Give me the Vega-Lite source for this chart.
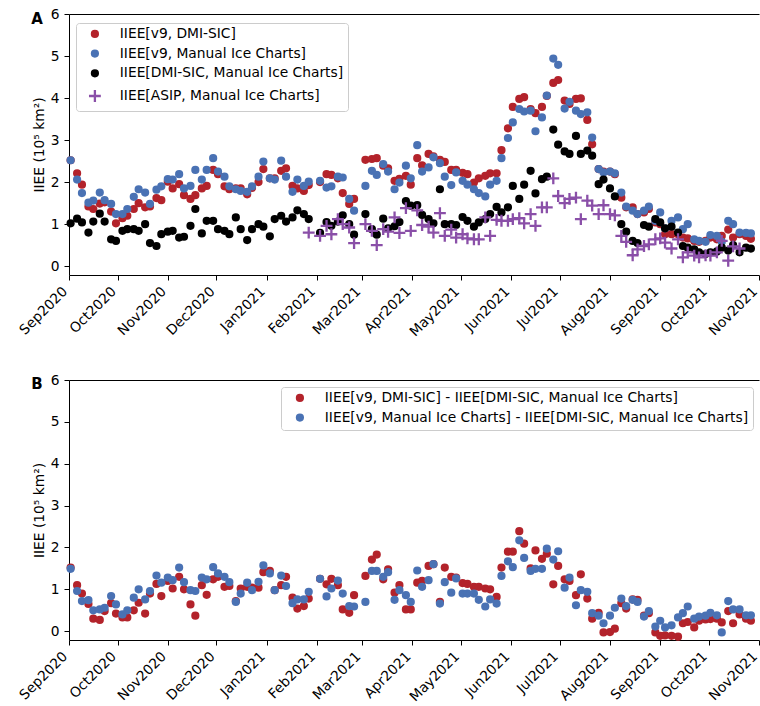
{
"$schema": "https://vega.github.io/schema/vega-lite/v6.json",
"padding": {"left": 16, "top": 7, "right": 0, "bottom": 0},
"config": {
 "font": "DejaVu Sans",
 "view": {"stroke": null},
 "axis": {"grid": false, "domainColor": "black", "tickColor": "black", "labelColor": "black", "titleColor": "black", "labelFontSize": 13.8, "titleFontSize": 13.8, "titleFontWeight": "normal", "tickSize": 5, "labelPadding": 5, "domainWidth": 1, "tickWidth": 1},
 "legend": {"title": null, "fillColor": "white", "strokeColor": "#cccccc", "cornerRadius": 3, "padding": 4, "labelFontSize": 13.8, "labelColor": "black", "labelLimit": 700, "rowPadding": 3.7, "symbolOffset": 8, "labelOffset": 18, "symbolSize": 35, "symbolStrokeWidth": 2.3}
},
"datasets": {
"top": [
{"d":"2020-09-02","s":"a","v":2.52},{"d":"2020-09-06","s":"a","v":2.21},{"d":"2020-09-09","s":"a","v":1.94},{"d":"2020-09-13","s":"a","v":1.42},{"d":"2020-09-16","s":"a","v":1.36},{"d":"2020-09-20","s":"a","v":1.49},{"d":"2020-09-23","s":"a","v":1.52},{"d":"2020-09-27","s":"a","v":1.30},{"d":"2020-09-30","s":"a","v":1.02},{"d":"2020-10-04","s":"a","v":1.14},{"d":"2020-10-07","s":"a","v":1.20},{"d":"2020-10-11","s":"a","v":1.36},{"d":"2020-10-14","s":"a","v":1.50},{"d":"2020-10-18","s":"a","v":1.40},{"d":"2020-10-21","s":"a","v":1.42},{"d":"2020-10-25","s":"a","v":1.62},{"d":"2020-10-28","s":"a","v":1.57},{"d":"2020-11-01","s":"a","v":2.01},{"d":"2020-11-04","s":"a","v":1.85},{"d":"2020-11-08","s":"a","v":1.95},{"d":"2020-11-11","s":"a","v":1.69},{"d":"2020-11-15","s":"a","v":1.60},{"d":"2020-11-18","s":"a","v":1.69},{"d":"2020-11-22","s":"a","v":1.85},{"d":"2020-11-25","s":"a","v":1.91},{"d":"2020-11-29","s":"a","v":2.29},{"d":"2020-12-02","s":"a","v":2.19},{"d":"2020-12-06","s":"a","v":1.90},{"d":"2020-12-09","s":"a","v":1.83},{"d":"2020-12-13","s":"a","v":1.85},{"d":"2020-12-16","s":"a","v":1.85},{"d":"2020-12-20","s":"a","v":1.71},{"d":"2020-12-23","s":"a","v":1.86},{"d":"2020-12-27","s":"a","v":2.00},{"d":"2020-12-30","s":"a","v":2.31},{"d":"2021-01-03","s":"a","v":2.09},{"d":"2021-01-06","s":"a","v":2.09},{"d":"2021-01-10","s":"a","v":2.27},{"d":"2021-01-13","s":"a","v":2.33},{"d":"2021-01-17","s":"a","v":1.91},{"d":"2021-01-20","s":"a","v":1.85},{"d":"2021-01-24","s":"a","v":1.79},{"d":"2021-01-27","s":"a","v":1.93},{"d":"2021-02-03","s":"a","v":2.00},{"d":"2021-02-07","s":"a","v":2.19},{"d":"2021-02-10","s":"a","v":2.17},{"d":"2021-02-14","s":"a","v":2.09},{"d":"2021-02-17","s":"a","v":1.74},{"d":"2021-02-21","s":"a","v":1.48},{"d":"2021-02-24","s":"a","v":1.60},{"d":"2021-03-03","s":"a","v":2.53},{"d":"2021-03-07","s":"a","v":2.55},{"d":"2021-03-10","s":"a","v":2.57},{"d":"2021-03-14","s":"a","v":2.39},{"d":"2021-03-17","s":"a","v":2.33},{"d":"2021-03-21","s":"a","v":2.03},{"d":"2021-03-24","s":"a","v":2.08},{"d":"2021-03-28","s":"a","v":2.15},{"d":"2021-03-31","s":"a","v":1.94},{"d":"2021-04-04","s":"a","v":2.57},{"d":"2021-04-07","s":"a","v":2.40},{"d":"2021-04-11","s":"a","v":2.67},{"d":"2021-04-14","s":"a","v":2.61},{"d":"2021-04-18","s":"a","v":2.53},{"d":"2021-04-21","s":"a","v":2.48},{"d":"2021-04-25","s":"a","v":2.29},{"d":"2021-04-28","s":"a","v":2.29},{"d":"2021-05-02","s":"a","v":2.22},{"d":"2021-05-05","s":"a","v":2.19},{"d":"2021-05-09","s":"a","v":1.99},{"d":"2021-05-12","s":"a","v":2.09},{"d":"2021-05-16","s":"a","v":2.15},{"d":"2021-05-19","s":"a","v":2.21},{"d":"2021-05-23","s":"a","v":2.21},{"d":"2021-05-26","s":"a","v":2.76},{"d":"2021-05-30","s":"a","v":3.28},{"d":"2021-06-02","s":"a","v":3.79},{"d":"2021-06-06","s":"a","v":3.98},{"d":"2021-06-09","s":"a","v":4.02},{"d":"2021-06-13","s":"a","v":3.74},{"d":"2021-06-16","s":"a","v":3.64},{"d":"2021-06-20","s":"a","v":3.79},{"d":"2021-06-23","s":"a","v":4.05},{"d":"2021-06-27","s":"a","v":4.36},{"d":"2021-06-30","s":"a","v":4.43},{"d":"2021-07-04","s":"a","v":3.94},{"d":"2021-07-07","s":"a","v":3.86},{"d":"2021-07-11","s":"a","v":3.98},{"d":"2021-07-14","s":"a","v":3.99},{"d":"2021-07-18","s":"a","v":3.48},{"d":"2021-07-21","s":"a","v":2.90},{"d":"2021-07-25","s":"a","v":2.31},{"d":"2021-07-28","s":"a","v":2.25},{"d":"2021-08-01","s":"a","v":2.25},{"d":"2021-08-04","s":"a","v":2.19},{"d":"2021-08-08","s":"a","v":1.63},{"d":"2021-08-11","s":"a","v":1.40},{"d":"2021-08-15","s":"a","v":1.40},{"d":"2021-08-18","s":"a","v":1.24},{"d":"2021-08-22","s":"a","v":1.28},{"d":"2021-08-25","s":"a","v":1.36},{"d":"2021-08-29","s":"a","v":1.04},{"d":"2021-09-01","s":"a","v":1.00},{"d":"2021-09-04","s":"a","v":0.76},{"d":"2021-09-08","s":"a","v":0.76},{"d":"2021-09-12","s":"a","v":0.76},{"d":"2021-09-15","s":"a","v":0.68},{"d":"2021-09-18","s":"a","v":0.66},{"d":"2021-09-22","s":"a","v":0.60},{"d":"2021-09-25","s":"a","v":0.58},{"d":"2021-09-29","s":"a","v":0.60},{"d":"2021-10-02","s":"a","v":0.68},{"d":"2021-10-06","s":"a","v":0.64},{"d":"2021-10-09","s":"a","v":0.72},{"d":"2021-10-13","s":"a","v":0.87},{"d":"2021-10-16","s":"a","v":0.68},{"d":"2021-10-20","s":"a","v":0.76},{"d":"2021-10-24","s":"a","v":0.72},{"d":"2021-10-27","s":"a","v":0.65},
{"d":"2020-09-02","s":"b","v":2.52},{"d":"2020-09-06","s":"b","v":2.06},{"d":"2020-09-09","s":"b","v":1.74},{"d":"2020-09-13","s":"b","v":1.51},{"d":"2020-09-16","s":"b","v":1.56},{"d":"2020-09-20","s":"b","v":1.75},{"d":"2020-09-23","s":"b","v":1.57},{"d":"2020-09-27","s":"b","v":1.48},{"d":"2020-09-30","s":"b","v":1.24},{"d":"2020-10-04","s":"b","v":1.24},{"d":"2020-10-07","s":"b","v":1.36},{"d":"2020-10-11","s":"b","v":1.65},{"d":"2020-10-14","s":"b","v":1.83},{"d":"2020-10-18","s":"b","v":1.75},{"d":"2020-10-21","s":"b","v":1.48},{"d":"2020-10-25","s":"b","v":1.82},{"d":"2020-10-28","s":"b","v":1.90},{"d":"2020-11-01","s":"b","v":2.07},{"d":"2020-11-04","s":"b","v":2.06},{"d":"2020-11-08","s":"b","v":2.19},{"d":"2020-11-11","s":"b","v":1.85},{"d":"2020-11-15","s":"b","v":1.91},{"d":"2020-11-18","s":"b","v":2.29},{"d":"2020-11-22","s":"b","v":2.06},{"d":"2020-11-25","s":"b","v":2.29},{"d":"2020-11-29","s":"b","v":2.57},{"d":"2020-12-02","s":"b","v":2.25},{"d":"2020-12-06","s":"b","v":2.13},{"d":"2020-12-09","s":"b","v":1.90},{"d":"2020-12-13","s":"b","v":1.83},{"d":"2020-12-16","s":"b","v":1.79},{"d":"2020-12-20","s":"b","v":1.77},{"d":"2020-12-23","s":"b","v":1.90},{"d":"2020-12-27","s":"b","v":2.13},{"d":"2020-12-30","s":"b","v":2.49},{"d":"2021-01-03","s":"b","v":2.09},{"d":"2021-01-06","s":"b","v":2.06},{"d":"2021-01-10","s":"b","v":2.51},{"d":"2021-01-13","s":"b","v":2.13},{"d":"2021-01-17","s":"b","v":1.77},{"d":"2021-01-20","s":"b","v":2.06},{"d":"2021-01-24","s":"b","v":1.91},{"d":"2021-01-27","s":"b","v":2.01},{"d":"2021-02-03","s":"b","v":2.03},{"d":"2021-02-07","s":"b","v":1.87},{"d":"2021-02-10","s":"b","v":1.90},{"d":"2021-02-14","s":"b","v":2.13},{"d":"2021-02-17","s":"b","v":2.11},{"d":"2021-02-21","s":"b","v":1.60},{"d":"2021-02-24","s":"b","v":1.32},{"d":"2021-03-03","s":"b","v":1.91},{"d":"2021-03-07","s":"b","v":2.27},{"d":"2021-03-10","s":"b","v":2.17},{"d":"2021-03-14","s":"b","v":2.43},{"d":"2021-03-17","s":"b","v":2.25},{"d":"2021-03-21","s":"b","v":1.83},{"d":"2021-03-24","s":"b","v":1.99},{"d":"2021-03-28","s":"b","v":2.39},{"d":"2021-03-31","s":"b","v":2.09},{"d":"2021-04-04","s":"b","v":2.88},{"d":"2021-04-07","s":"b","v":2.25},{"d":"2021-04-11","s":"b","v":2.35},{"d":"2021-04-14","s":"b","v":2.59},{"d":"2021-04-18","s":"b","v":2.45},{"d":"2021-04-21","s":"b","v":2.13},{"d":"2021-04-25","s":"b","v":1.93},{"d":"2021-04-28","s":"b","v":2.23},{"d":"2021-05-02","s":"b","v":2.03},{"d":"2021-05-05","s":"b","v":1.94},{"d":"2021-05-09","s":"b","v":1.83},{"d":"2021-05-12","s":"b","v":1.74},{"d":"2021-05-16","s":"b","v":1.66},{"d":"2021-05-19","s":"b","v":1.94},{"d":"2021-05-23","s":"b","v":2.03},{"d":"2021-05-26","s":"b","v":2.57},{"d":"2021-05-30","s":"b","v":3.05},{"d":"2021-06-02","s":"b","v":3.42},{"d":"2021-06-06","s":"b","v":3.74},{"d":"2021-06-09","s":"b","v":3.68},{"d":"2021-06-13","s":"b","v":3.70},{"d":"2021-06-16","s":"b","v":3.21},{"d":"2021-06-20","s":"b","v":3.54},{"d":"2021-06-23","s":"b","v":4.06},{"d":"2021-06-27","s":"b","v":4.94},{"d":"2021-06-30","s":"b","v":4.79},{"d":"2021-07-04","s":"b","v":3.75},{"d":"2021-07-07","s":"b","v":3.91},{"d":"2021-07-11","s":"b","v":3.70},{"d":"2021-07-14","s":"b","v":3.62},{"d":"2021-07-18","s":"b","v":3.66},{"d":"2021-07-21","s":"b","v":3.06},{"d":"2021-07-25","s":"b","v":2.31},{"d":"2021-07-28","s":"b","v":2.23},{"d":"2021-08-01","s":"b","v":2.25},{"d":"2021-08-04","s":"b","v":2.21},{"d":"2021-08-08","s":"b","v":1.75},{"d":"2021-08-11","s":"b","v":1.42},{"d":"2021-08-15","s":"b","v":1.32},{"d":"2021-08-18","s":"b","v":1.24},{"d":"2021-08-22","s":"b","v":1.32},{"d":"2021-08-25","s":"b","v":1.42},{"d":"2021-08-29","s":"b","v":1.08},{"d":"2021-09-01","s":"b","v":1.28},{"d":"2021-09-04","s":"b","v":0.90},{"d":"2021-09-08","s":"b","v":1.08},{"d":"2021-09-12","s":"b","v":1.16},{"d":"2021-09-15","s":"b","v":0.88},{"d":"2021-09-18","s":"b","v":1.00},{"d":"2021-09-22","s":"b","v":0.64},{"d":"2021-09-25","s":"b","v":0.60},{"d":"2021-09-29","s":"b","v":0.58},{"d":"2021-10-02","s":"b","v":0.74},{"d":"2021-10-06","s":"b","v":0.72},{"d":"2021-10-09","s":"b","v":0.58},{"d":"2021-10-13","s":"b","v":1.08},{"d":"2021-10-16","s":"b","v":1.00},{"d":"2021-10-20","s":"b","v":0.80},{"d":"2021-10-24","s":"b","v":0.79},{"d":"2021-10-27","s":"b","v":0.78},
{"d":"2020-09-02","s":"c","v":1.02},{"d":"2020-09-06","s":"c","v":1.13},{"d":"2020-09-09","s":"c","v":1.04},{"d":"2020-09-13","s":"c","v":0.80},{"d":"2020-09-16","s":"c","v":1.06},{"d":"2020-09-20","s":"c","v":1.25},{"d":"2020-09-23","s":"c","v":1.06},{"d":"2020-09-27","s":"c","v":0.64},{"d":"2020-09-30","s":"c","v":0.60},{"d":"2020-10-04","s":"c","v":0.84},{"d":"2020-10-07","s":"c","v":0.88},{"d":"2020-10-11","s":"c","v":0.88},{"d":"2020-10-14","s":"c","v":0.84},{"d":"2020-10-18","s":"c","v":1.00},{"d":"2020-10-21","s":"c","v":0.55},{"d":"2020-10-25","s":"c","v":0.48},{"d":"2020-10-28","s":"c","v":0.76},{"d":"2020-11-01","s":"c","v":0.82},{"d":"2020-11-04","s":"c","v":0.84},{"d":"2020-11-08","s":"c","v":0.68},{"d":"2020-11-11","s":"c","v":0.70},{"d":"2020-11-15","s":"c","v":0.96},{"d":"2020-11-18","s":"c","v":1.36},{"d":"2020-11-22","s":"c","v":0.78},{"d":"2020-11-25","s":"c","v":1.08},{"d":"2020-11-29","s":"c","v":1.08},{"d":"2020-12-02","s":"c","v":0.88},{"d":"2020-12-06","s":"c","v":0.84},{"d":"2020-12-09","s":"c","v":0.76},{"d":"2020-12-13","s":"c","v":1.16},{"d":"2020-12-16","s":"c","v":0.88},{"d":"2020-12-20","s":"c","v":0.62},{"d":"2020-12-23","s":"c","v":0.88},{"d":"2020-12-27","s":"c","v":1.00},{"d":"2020-12-30","s":"c","v":0.94},{"d":"2021-01-03","s":"c","v":0.71},{"d":"2021-01-06","s":"c","v":1.12},{"d":"2021-01-10","s":"c","v":1.20},{"d":"2021-01-13","s":"c","v":1.06},{"d":"2021-01-17","s":"c","v":1.16},{"d":"2021-01-20","s":"c","v":1.33},{"d":"2021-01-24","s":"c","v":1.24},{"d":"2021-01-27","s":"c","v":1.12},{"d":"2021-02-03","s":"c","v":0.79},{"d":"2021-02-07","s":"c","v":1.05},{"d":"2021-02-10","s":"c","v":0.96},{"d":"2021-02-14","s":"c","v":1.06},{"d":"2021-02-17","s":"c","v":1.21},{"d":"2021-02-21","s":"c","v":1.00},{"d":"2021-02-24","s":"c","v":0.75},{"d":"2021-03-03","s":"c","v":1.24},{"d":"2021-03-07","s":"c","v":0.88},{"d":"2021-03-10","s":"c","v":0.75},{"d":"2021-03-14","s":"c","v":1.13},{"d":"2021-03-17","s":"c","v":0.90},{"d":"2021-03-21","s":"c","v":0.95},{"d":"2021-03-24","s":"c","v":1.05},{"d":"2021-03-28","s":"c","v":1.55},{"d":"2021-03-31","s":"c","v":1.44},{"d":"2021-04-04","s":"c","v":1.45},{"d":"2021-04-07","s":"c","v":1.22},{"d":"2021-04-11","s":"c","v":1.12},{"d":"2021-04-14","s":"c","v":1.02},{"d":"2021-04-18","s":"c","v":1.83},{"d":"2021-04-21","s":"c","v":1.00},{"d":"2021-04-25","s":"c","v":1.00},{"d":"2021-04-28","s":"c","v":0.98},{"d":"2021-05-02","s":"c","v":1.17},{"d":"2021-05-05","s":"c","v":1.08},{"d":"2021-05-09","s":"c","v":0.94},{"d":"2021-05-12","s":"c","v":1.04},{"d":"2021-05-16","s":"c","v":1.12},{"d":"2021-05-19","s":"c","v":1.24},{"d":"2021-05-23","s":"c","v":1.41},{"d":"2021-05-26","s":"c","v":1.28},{"d":"2021-05-30","s":"c","v":1.40},{"d":"2021-06-02","s":"c","v":1.91},{"d":"2021-06-06","s":"c","v":1.60},{"d":"2021-06-09","s":"c","v":1.94},{"d":"2021-06-13","s":"c","v":2.27},{"d":"2021-06-16","s":"c","v":1.73},{"d":"2021-06-20","s":"c","v":2.07},{"d":"2021-06-23","s":"c","v":2.13},{"d":"2021-06-27","s":"c","v":3.25},{"d":"2021-06-30","s":"c","v":2.89},{"d":"2021-07-04","s":"c","v":2.73},{"d":"2021-07-07","s":"c","v":2.67},{"d":"2021-07-11","s":"c","v":3.10},{"d":"2021-07-14","s":"c","v":2.67},{"d":"2021-07-18","s":"c","v":2.75},{"d":"2021-07-21","s":"c","v":2.63},{"d":"2021-07-25","s":"c","v":1.95},{"d":"2021-07-28","s":"c","v":2.06},{"d":"2021-08-01","s":"c","v":1.85},{"d":"2021-08-04","s":"c","v":1.66},{"d":"2021-08-08","s":"c","v":1.00},{"d":"2021-08-11","s":"c","v":0.82},{"d":"2021-08-15","s":"c","v":0.60},{"d":"2021-08-18","s":"c","v":0.55},{"d":"2021-08-22","s":"c","v":0.98},{"d":"2021-08-25","s":"c","v":0.94},{"d":"2021-08-29","s":"c","v":1.12},{"d":"2021-09-01","s":"c","v":1.04},{"d":"2021-09-04","s":"c","v":0.90},{"d":"2021-09-08","s":"c","v":0.94},{"d":"2021-09-12","s":"c","v":0.80},{"d":"2021-09-15","s":"c","v":0.48},{"d":"2021-09-18","s":"c","v":0.44},{"d":"2021-09-22","s":"c","v":0.40},{"d":"2021-09-25","s":"c","v":0.33},{"d":"2021-09-29","s":"c","v":0.29},{"d":"2021-10-02","s":"c","v":0.33},{"d":"2021-10-06","s":"c","v":0.35},{"d":"2021-10-09","s":"c","v":0.44},{"d":"2021-10-13","s":"c","v":0.37},{"d":"2021-10-16","s":"c","v":0.50},{"d":"2021-10-20","s":"c","v":0.33},{"d":"2021-10-24","s":"c","v":0.44},{"d":"2021-10-27","s":"c","v":0.42},
{"d":"2021-01-27","s":"d","v":0.80},{"d":"2021-02-03","s":"d","v":0.72},{"d":"2021-02-07","s":"d","v":0.96},{"d":"2021-02-10","s":"d","v":0.76},{"d":"2021-02-14","s":"d","v":1.12},{"d":"2021-02-17","s":"d","v":1.00},{"d":"2021-02-21","s":"d","v":0.92},{"d":"2021-02-24","s":"d","v":0.55},{"d":"2021-03-03","s":"d","v":1.00},{"d":"2021-03-07","s":"d","v":0.84},{"d":"2021-03-10","s":"d","v":0.50},{"d":"2021-03-14","s":"d","v":0.88},{"d":"2021-03-17","s":"d","v":0.82},{"d":"2021-03-21","s":"d","v":1.16},{"d":"2021-03-24","s":"d","v":0.79},{"d":"2021-03-28","s":"d","v":1.38},{"d":"2021-03-31","s":"d","v":0.84},{"d":"2021-04-04","s":"d","v":1.33},{"d":"2021-04-07","s":"d","v":0.98},{"d":"2021-04-11","s":"d","v":0.94},{"d":"2021-04-14","s":"d","v":0.80},{"d":"2021-04-18","s":"d","v":1.26},{"d":"2021-04-21","s":"d","v":0.72},{"d":"2021-04-25","s":"d","v":0.87},{"d":"2021-04-28","s":"d","v":0.68},{"d":"2021-05-02","s":"d","v":0.76},{"d":"2021-05-05","s":"d","v":0.66},{"d":"2021-05-09","s":"d","v":0.64},{"d":"2021-05-12","s":"d","v":0.64},{"d":"2021-05-16","s":"d","v":1.16},{"d":"2021-05-19","s":"d","v":0.72},{"d":"2021-05-23","s":"d","v":1.10},{"d":"2021-05-26","s":"d","v":1.08},{"d":"2021-05-30","s":"d","v":1.08},{"d":"2021-06-02","s":"d","v":1.12},{"d":"2021-06-06","s":"d","v":1.14},{"d":"2021-06-09","s":"d","v":1.02},{"d":"2021-06-13","s":"d","v":1.24},{"d":"2021-06-16","s":"d","v":0.96},{"d":"2021-06-20","s":"d","v":1.40},{"d":"2021-06-23","s":"d","v":1.40},{"d":"2021-06-27","s":"d","v":2.09},{"d":"2021-06-30","s":"d","v":1.67},{"d":"2021-07-04","s":"d","v":1.50},{"d":"2021-07-07","s":"d","v":1.60},{"d":"2021-07-11","s":"d","v":1.63},{"d":"2021-07-14","s":"d","v":1.12},{"d":"2021-07-18","s":"d","v":1.56},{"d":"2021-07-21","s":"d","v":1.44},{"d":"2021-07-25","s":"d","v":1.24},{"d":"2021-07-28","s":"d","v":1.45},{"d":"2021-08-01","s":"d","v":1.24},{"d":"2021-08-04","s":"d","v":1.21},{"d":"2021-08-08","s":"d","v":0.72},{"d":"2021-08-11","s":"d","v":0.58},{"d":"2021-08-15","s":"d","v":0.26},{"d":"2021-08-18","s":"d","v":0.40},{"d":"2021-08-22","s":"d","v":0.48},{"d":"2021-08-25","s":"d","v":0.52},{"d":"2021-08-29","s":"d","v":0.64},{"d":"2021-09-01","s":"d","v":0.66},{"d":"2021-09-04","s":"d","v":0.56},{"d":"2021-09-08","s":"d","v":0.42},{"d":"2021-09-12","s":"d","v":0.64},{"d":"2021-09-15","s":"d","v":0.21},{"d":"2021-09-18","s":"d","v":0.33},{"d":"2021-09-22","s":"d","v":0.25},{"d":"2021-09-25","s":"d","v":0.21},{"d":"2021-09-29","s":"d","v":0.26},{"d":"2021-10-02","s":"d","v":0.25},{"d":"2021-10-06","s":"d","v":0.33},{"d":"2021-10-09","s":"d","v":0.60},{"d":"2021-10-13","s":"d","v":0.13},{"d":"2021-10-16","s":"d","v":0.47},{"d":"2021-10-20","s":"d","v":0.42}
],
"bot": [
{"d":"2020-09-02","s":"a","v":1.52},{"d":"2020-09-06","s":"a","v":1.10},{"d":"2020-09-09","s":"a","v":0.90},{"d":"2020-09-13","s":"a","v":0.65},{"d":"2020-09-16","s":"a","v":0.30},{"d":"2020-09-20","s":"a","v":0.27},{"d":"2020-09-23","s":"a","v":0.48},{"d":"2020-09-27","s":"a","v":0.67},{"d":"2020-09-30","s":"a","v":0.42},{"d":"2020-10-04","s":"a","v":0.33},{"d":"2020-10-07","s":"a","v":0.33},{"d":"2020-10-11","s":"a","v":0.50},{"d":"2020-10-14","s":"a","v":0.68},{"d":"2020-10-18","s":"a","v":0.42},{"d":"2020-10-21","s":"a","v":0.90},{"d":"2020-10-25","s":"a","v":1.13},{"d":"2020-10-28","s":"a","v":0.84},{"d":"2020-11-01","s":"a","v":1.20},{"d":"2020-11-04","s":"a","v":1.02},{"d":"2020-11-08","s":"a","v":1.30},{"d":"2020-11-11","s":"a","v":1.00},{"d":"2020-11-15","s":"a","v":0.64},{"d":"2020-11-18","s":"a","v":0.37},{"d":"2020-11-22","s":"a","v":1.10},{"d":"2020-11-25","s":"a","v":0.87},{"d":"2020-11-29","s":"a","v":1.24},{"d":"2020-12-02","s":"a","v":1.30},{"d":"2020-12-06","s":"a","v":1.06},{"d":"2020-12-09","s":"a","v":1.08},{"d":"2020-12-13","s":"a","v":0.72},{"d":"2020-12-16","s":"a","v":1.02},{"d":"2020-12-20","s":"a","v":1.06},{"d":"2020-12-23","s":"a","v":1.04},{"d":"2020-12-27","s":"a","v":1.04},{"d":"2020-12-30","s":"a","v":1.41},{"d":"2021-01-03","s":"a","v":1.44},{"d":"2021-01-06","s":"a","v":0.98},{"d":"2021-01-10","s":"a","v":1.10},{"d":"2021-01-13","s":"a","v":1.30},{"d":"2021-01-17","s":"a","v":0.80},{"d":"2021-01-20","s":"a","v":0.54},{"d":"2021-01-24","s":"a","v":0.60},{"d":"2021-01-27","s":"a","v":0.78},{"d":"2021-02-03","s":"a","v":1.25},{"d":"2021-02-07","s":"a","v":1.12},{"d":"2021-02-10","s":"a","v":1.25},{"d":"2021-02-14","s":"a","v":1.10},{"d":"2021-02-17","s":"a","v":0.52},{"d":"2021-02-21","s":"a","v":0.44},{"d":"2021-02-24","s":"a","v":0.86},{"d":"2021-03-03","s":"a","v":1.32},{"d":"2021-03-07","s":"a","v":1.71},{"d":"2021-03-10","s":"a","v":1.83},{"d":"2021-03-14","s":"a","v":1.24},{"d":"2021-03-17","s":"a","v":1.48},{"d":"2021-03-21","s":"a","v":0.92},{"d":"2021-03-24","s":"a","v":1.10},{"d":"2021-03-28","s":"a","v":0.52},{"d":"2021-03-31","s":"a","v":0.52},{"d":"2021-04-04","s":"a","v":1.16},{"d":"2021-04-07","s":"a","v":1.20},{"d":"2021-04-11","s":"a","v":1.56},{"d":"2021-04-14","s":"a","v":1.60},{"d":"2021-04-18","s":"a","v":0.70},{"d":"2021-04-21","s":"a","v":1.52},{"d":"2021-04-25","s":"a","v":1.30},{"d":"2021-04-28","s":"a","v":1.28},{"d":"2021-05-02","s":"a","v":1.15},{"d":"2021-05-05","s":"a","v":1.13},{"d":"2021-05-09","s":"a","v":1.06},{"d":"2021-05-12","s":"a","v":1.06},{"d":"2021-05-16","s":"a","v":1.02},{"d":"2021-05-19","s":"a","v":1.00},{"d":"2021-05-23","s":"a","v":0.82},{"d":"2021-05-26","s":"a","v":1.52},{"d":"2021-05-30","s":"a","v":1.90},{"d":"2021-06-02","s":"a","v":1.90},{"d":"2021-06-06","s":"a","v":2.39},{"d":"2021-06-09","s":"a","v":2.09},{"d":"2021-06-13","s":"a","v":1.50},{"d":"2021-06-16","s":"a","v":1.93},{"d":"2021-06-20","s":"a","v":1.73},{"d":"2021-06-23","s":"a","v":1.85},{"d":"2021-06-27","s":"a","v":1.12},{"d":"2021-06-30","s":"a","v":1.56},{"d":"2021-07-04","s":"a","v":1.24},{"d":"2021-07-07","s":"a","v":1.20},{"d":"2021-07-11","s":"a","v":0.86},{"d":"2021-07-14","s":"a","v":1.36},{"d":"2021-07-18","s":"a","v":0.78},{"d":"2021-07-21","s":"a","v":0.30},{"d":"2021-07-25","s":"a","v":0.44},{"d":"2021-07-28","s":"a","v":-0.03},{"d":"2021-08-01","s":"a","v":-0.02},{"d":"2021-08-04","s":"a","v":0.06},{"d":"2021-08-08","s":"a","v":0.67},{"d":"2021-08-11","s":"a","v":0.54},{"d":"2021-08-15","s":"a","v":0.76},{"d":"2021-08-18","s":"a","v":0.75},{"d":"2021-08-22","s":"a","v":0.37},{"d":"2021-08-25","s":"a","v":0.43},{"d":"2021-08-29","s":"a","v":-0.03},{"d":"2021-09-01","s":"a","v":-0.11},{"d":"2021-09-04","s":"a","v":-0.10},{"d":"2021-09-08","s":"a","v":-0.11},{"d":"2021-09-12","s":"a","v":-0.13},{"d":"2021-09-15","s":"a","v":0.19},{"d":"2021-09-18","s":"a","v":0.22},{"d":"2021-09-22","s":"a","v":0.09},{"d":"2021-09-25","s":"a","v":0.25},{"d":"2021-09-29","s":"a","v":0.28},{"d":"2021-10-02","s":"a","v":0.29},{"d":"2021-10-06","s":"a","v":0.30},{"d":"2021-10-09","s":"a","v":0.21},{"d":"2021-10-13","s":"a","v":0.48},{"d":"2021-10-16","s":"a","v":0.19},{"d":"2021-10-20","s":"a","v":0.40},{"d":"2021-10-24","s":"a","v":0.30},{"d":"2021-10-27","s":"a","v":0.25},
{"d":"2020-09-02","s":"b","v":1.49},{"d":"2020-09-06","s":"b","v":0.96},{"d":"2020-09-09","s":"b","v":0.72},{"d":"2020-09-13","s":"b","v":0.74},{"d":"2020-09-16","s":"b","v":0.50},{"d":"2020-09-20","s":"b","v":0.52},{"d":"2020-09-23","s":"b","v":0.56},{"d":"2020-09-27","s":"b","v":0.84},{"d":"2020-09-30","s":"b","v":0.64},{"d":"2020-10-04","s":"b","v":0.40},{"d":"2020-10-07","s":"b","v":0.50},{"d":"2020-10-11","s":"b","v":0.80},{"d":"2020-10-14","s":"b","v":1.00},{"d":"2020-10-18","s":"b","v":0.76},{"d":"2020-10-21","s":"b","v":0.96},{"d":"2020-10-25","s":"b","v":1.33},{"d":"2020-10-28","s":"b","v":1.16},{"d":"2020-11-01","s":"b","v":1.28},{"d":"2020-11-04","s":"b","v":1.22},{"d":"2020-11-08","s":"b","v":1.52},{"d":"2020-11-11","s":"b","v":1.17},{"d":"2020-11-15","s":"b","v":0.98},{"d":"2020-11-18","s":"b","v":0.96},{"d":"2020-11-22","s":"b","v":1.28},{"d":"2020-11-25","s":"b","v":1.24},{"d":"2020-11-29","s":"b","v":1.53},{"d":"2020-12-02","s":"b","v":1.38},{"d":"2020-12-06","s":"b","v":1.30},{"d":"2020-12-09","s":"b","v":1.17},{"d":"2020-12-13","s":"b","v":0.70},{"d":"2020-12-16","s":"b","v":0.90},{"d":"2020-12-20","s":"b","v":1.16},{"d":"2020-12-23","s":"b","v":0.98},{"d":"2020-12-27","s":"b","v":1.18},{"d":"2020-12-30","s":"b","v":1.57},{"d":"2021-01-03","s":"b","v":1.38},{"d":"2021-01-06","s":"b","v":0.98},{"d":"2021-01-10","s":"b","v":1.33},{"d":"2021-01-13","s":"b","v":1.08},{"d":"2021-01-17","s":"b","v":0.67},{"d":"2021-01-20","s":"b","v":0.76},{"d":"2021-01-24","s":"b","v":0.76},{"d":"2021-01-27","s":"b","v":0.94},{"d":"2021-02-03","s":"b","v":1.25},{"d":"2021-02-07","s":"b","v":0.83},{"d":"2021-02-10","s":"b","v":1.02},{"d":"2021-02-14","s":"b","v":1.21},{"d":"2021-02-17","s":"b","v":0.90},{"d":"2021-02-21","s":"b","v":0.60},{"d":"2021-02-24","s":"b","v":0.59},{"d":"2021-03-03","s":"b","v":0.70},{"d":"2021-03-07","s":"b","v":1.44},{"d":"2021-03-10","s":"b","v":1.44},{"d":"2021-03-14","s":"b","v":1.30},{"d":"2021-03-17","s":"b","v":1.41},{"d":"2021-03-21","s":"b","v":0.75},{"d":"2021-03-24","s":"b","v":0.98},{"d":"2021-03-28","s":"b","v":0.86},{"d":"2021-03-31","s":"b","v":0.70},{"d":"2021-04-04","s":"b","v":1.45},{"d":"2021-04-07","s":"b","v":1.06},{"d":"2021-04-11","s":"b","v":1.22},{"d":"2021-04-14","s":"b","v":1.60},{"d":"2021-04-18","s":"b","v":0.66},{"d":"2021-04-21","s":"b","v":1.17},{"d":"2021-04-25","s":"b","v":0.92},{"d":"2021-04-28","s":"b","v":1.26},{"d":"2021-05-02","s":"b","v":0.90},{"d":"2021-05-05","s":"b","v":0.90},{"d":"2021-05-09","s":"b","v":0.90},{"d":"2021-05-12","s":"b","v":0.75},{"d":"2021-05-16","s":"b","v":0.59},{"d":"2021-05-19","s":"b","v":0.76},{"d":"2021-05-23","s":"b","v":0.66},{"d":"2021-05-26","s":"b","v":1.32},{"d":"2021-05-30","s":"b","v":1.67},{"d":"2021-06-02","s":"b","v":1.53},{"d":"2021-06-06","s":"b","v":2.17},{"d":"2021-06-09","s":"b","v":1.75},{"d":"2021-06-13","s":"b","v":1.44},{"d":"2021-06-16","s":"b","v":1.49},{"d":"2021-06-20","s":"b","v":1.49},{"d":"2021-06-23","s":"b","v":1.97},{"d":"2021-06-27","s":"b","v":1.71},{"d":"2021-06-30","s":"b","v":1.91},{"d":"2021-07-04","s":"b","v":1.04},{"d":"2021-07-07","s":"b","v":1.28},{"d":"2021-07-11","s":"b","v":0.62},{"d":"2021-07-14","s":"b","v":0.98},{"d":"2021-07-18","s":"b","v":0.94},{"d":"2021-07-21","s":"b","v":0.43},{"d":"2021-07-25","s":"b","v":0.37},{"d":"2021-07-28","s":"b","v":0.19},{"d":"2021-08-01","s":"b","v":0.37},{"d":"2021-08-04","s":"b","v":0.56},{"d":"2021-08-08","s":"b","v":0.78},{"d":"2021-08-11","s":"b","v":0.60},{"d":"2021-08-15","s":"b","v":0.75},{"d":"2021-08-18","s":"b","v":0.70},{"d":"2021-08-22","s":"b","v":0.35},{"d":"2021-08-25","s":"b","v":0.48},{"d":"2021-08-29","s":"b","v":0.11},{"d":"2021-09-01","s":"b","v":0.25},{"d":"2021-09-04","s":"b","v":0.09},{"d":"2021-09-08","s":"b","v":0.14},{"d":"2021-09-12","s":"b","v":0.33},{"d":"2021-09-15","s":"b","v":0.43},{"d":"2021-09-18","s":"b","v":0.59},{"d":"2021-09-22","s":"b","v":0.30},{"d":"2021-09-25","s":"b","v":0.35},{"d":"2021-09-29","s":"b","v":0.37},{"d":"2021-10-02","s":"b","v":0.44},{"d":"2021-10-06","s":"b","v":0.38},{"d":"2021-10-09","s":"b","v":-0.03},{"d":"2021-10-13","s":"b","v":0.72},{"d":"2021-10-16","s":"b","v":0.52},{"d":"2021-10-20","s":"b","v":0.52},{"d":"2021-10-24","s":"b","v":0.38},{"d":"2021-10-27","s":"b","v":0.38}
]
},
"spacing": 34,
"resolve": {"scale": {"color": "independent", "stroke": "independent", "shape": "independent"}, "legend": {"color": "independent", "stroke": "independent", "shape": "independent"}},
"vconcat": [
{
 "width": 690, "height": 261,
 "layer": [
  {
   "data": {"name": "top"},
   "mark": {"type": "point", "filled": true, "opacity": 1, "strokeWidth": 2.3, "size": 35},
   "encoding": {
    "x": {"field": "d", "type": "temporal", "scale": {"domain": [{"year": 2020, "month": 9, "date": 1}, {"year": 2021, "month": 11, "date": 1}]}, "axis": {"format": "%b%Y", "labelAngle": -45, "labelAlign": "right", "labelBaseline": "top", "labelOffset": -9, "labelPadding": 4, "tickCount": {"interval": "month", "step": 1}, "title": null, "labelOverlap": false, "labelBound": false, "labelFlush": false}},
    "y": {"field": "v", "type": "quantitative", "scale": {"domain": [-0.21, 6], "nice": false, "zero": false}, "axis": {"values": [0, 1, 2, 3, 4, 5, 6], "title": "IIEE (10⁵ km²)", "titlePadding": 4}},
    "color": {"field": "s", "type": "nominal", "scale": {"domain": ["a", "b", "c", "d"], "range": ["#b3232b", "#4a72b4", "#000000", "#8a4fa8"]}, "legend": {"orient": "none", "legendX": 7, "legendY": 9, "labelExpr": "datum.label == 'a' ? 'IIEE[v9, DMI-SIC]' : datum.label == 'b' ? 'IIEE[v9, Manual Ice Charts]' : datum.label == 'c' ? 'IIEE[DMI-SIC, Manual Ice Charts]' : 'IIEE[ASIP, Manual Ice Charts]'"}},
    "stroke": {"field": "s", "type": "nominal", "scale": {"domain": ["a", "b", "c", "d"], "range": ["#b3232b", "#4a72b4", "#000000", "#8a4fa8"]}, "legend": {"orient": "none", "legendX": 7, "legendY": 9, "labelExpr": "datum.label == 'a' ? 'IIEE[v9, DMI-SIC]' : datum.label == 'b' ? 'IIEE[v9, Manual Ice Charts]' : datum.label == 'c' ? 'IIEE[DMI-SIC, Manual Ice Charts]' : 'IIEE[ASIP, Manual Ice Charts]'"}},
    "shape": {"field": "s", "type": "nominal", "scale": {"domain": ["a", "b", "c", "d"], "range": ["circle", "circle", "circle", "M-2,0L2,0M0,-2L0,2"]}, "legend": {"orient": "none", "legendX": 7, "legendY": 9, "labelExpr": "datum.label == 'a' ? 'IIEE[v9, DMI-SIC]' : datum.label == 'b' ? 'IIEE[v9, Manual Ice Charts]' : datum.label == 'c' ? 'IIEE[DMI-SIC, Manual Ice Charts]' : 'IIEE[ASIP, Manual Ice Charts]'"}}
   }
  },
  {
   "data": {"values": [{}]},
   "mark": {"type": "text", "text": "A", "fontSize": 15, "fontWeight": "bold", "align": "center", "baseline": "alphabetic", "dx": -32, "dy": 10, "color": "black"},
   "encoding": {"x": {"datum": {"year": 2020, "month": 9, "date": 1}, "type": "temporal", "axis": {"orient": "top", "labels": false, "ticks": false, "title": null, "domain": true}}, "y": {"datum": 6, "type": "quantitative"}}
  }
 ],
 "resolve": {"axis": {"x": "independent"}}
},
{
 "width": 690, "height": 260,
 "layer": [
  {
   "data": {"name": "bot"},
   "mark": {"type": "point", "filled": true, "opacity": 1, "strokeWidth": 2.3, "size": 35},
   "encoding": {
    "x": {"field": "d", "type": "temporal", "scale": {"domain": [{"year": 2020, "month": 9, "date": 1}, {"year": 2021, "month": 11, "date": 1}]}, "axis": {"format": "%b%Y", "labelAngle": -45, "labelAlign": "right", "labelBaseline": "top", "labelOffset": -9, "labelPadding": 4, "tickCount": {"interval": "month", "step": 1}, "title": null, "labelOverlap": false, "labelBound": false, "labelFlush": false}},
    "y": {"field": "v", "type": "quantitative", "scale": {"domain": [-0.21, 6], "nice": false, "zero": false}, "axis": {"values": [0, 1, 2, 3, 4, 5, 6], "title": "IIEE (10⁵ km²)", "titlePadding": 4}},
    "color": {"field": "s", "type": "nominal", "scale": {"domain": ["a", "b"], "range": ["#b3232b", "#4a72b4"]}, "legend": {"orient": "none", "legendX": 212, "legendY": 7, "labelExpr": "datum.label == 'a' ? 'IIEE[v9, DMI-SIC] - IIEE[DMI-SIC, Manual Ice Charts]' : 'IIEE[v9, Manual Ice Charts] - IIEE[DMI-SIC, Manual Ice Charts]'"}},
    "stroke": {"field": "s", "type": "nominal", "scale": {"domain": ["a", "b"], "range": ["#b3232b", "#4a72b4"]}, "legend": {"orient": "none", "legendX": 212, "legendY": 7, "labelExpr": "datum.label == 'a' ? 'IIEE[v9, DMI-SIC] - IIEE[DMI-SIC, Manual Ice Charts]' : 'IIEE[v9, Manual Ice Charts] - IIEE[DMI-SIC, Manual Ice Charts]'"}}
   }
  },
  {
   "data": {"values": [{}]},
   "mark": {"type": "text", "text": "B", "fontSize": 15, "fontWeight": "bold", "align": "center", "baseline": "alphabetic", "dx": -32, "dy": 9, "color": "black"},
   "encoding": {"x": {"datum": {"year": 2020, "month": 9, "date": 1}, "type": "temporal", "axis": {"orient": "top", "labels": false, "ticks": false, "title": null, "domain": true}}, "y": {"datum": 6, "type": "quantitative"}}
  }
 ],
 "resolve": {"axis": {"x": "independent"}}
}
]
}
